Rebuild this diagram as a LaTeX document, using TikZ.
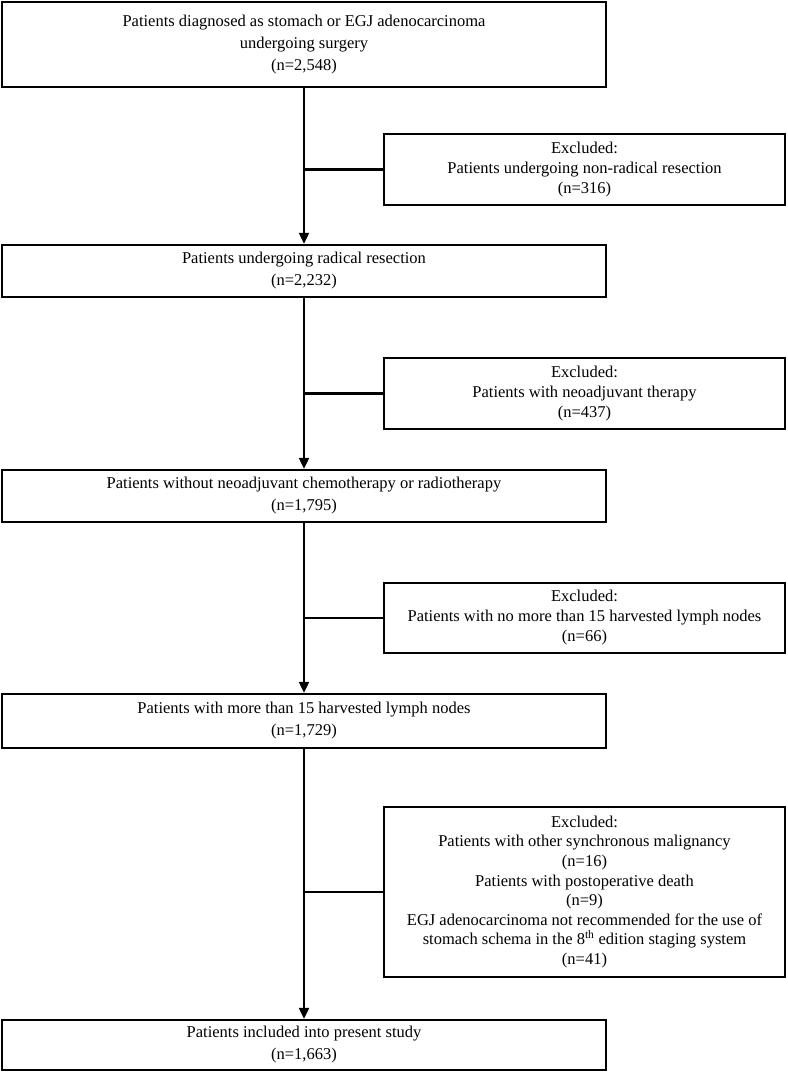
\documentclass[tikz,border=0pt]{standalone}
\usepackage{fontspec}
\setmainfont{Liberation Serif}
\usetikzlibrary{arrows.meta}
\begin{document}
\begin{tikzpicture}[x=1pt,y=-1pt,
  mainbox/.style={draw, line width=2.4pt, minimum width=604pt, inner sep=0pt, align=center, font=\fontsize{16.5pt}{22pt}\selectfont},
  sidebox/.style={draw, line width=2.4pt, minimum width=401pt, inner sep=0pt, align=center, font=\fontsize{16.5pt}{20pt}\selectfont},
  flow/.style={line width=2.2pt, -{Triangle[length=11pt,width=10pt]}},
  branch/.style={line width=2.2pt}]
\useasboundingbox (0,0) rectangle (787,1073);
\node[mainbox, minimum height=85pt] (b1) at (304,44.5) {Patients diagnosed as stomach or EGJ adenocarcinoma\\undergoing surgery\\(n=2,548)};
\node[sidebox, minimum height=71pt] (sA) at (584.5,169.5) {Excluded:\\Patients undergoing non-radical resection\\(n=316)};
\node[mainbox, minimum height=52pt] (b2) at (304,271) {Patients undergoing radical resection\\(n=2,232)};
\node[sidebox, minimum height=71pt] (sB) at (584.5,393.5) {Excluded:\\Patients with neoadjuvant therapy\\(n=437)};
\node[mainbox, minimum height=52pt] (b3) at (304,496) {Patients without neoadjuvant chemotherapy or radiotherapy\\(n=1,795)};
\node[sidebox, minimum height=70pt] (sC) at (584.5,618) {Excluded:\\Patients with no more than 15 harvested lymph nodes\\(n=66)};
\node[mainbox, minimum height=54pt] (b4) at (304,721) {Patients with more than 15 harvested lymph nodes\\(n=1,729)};
\node[sidebox, minimum height=170pt, font=\fontsize{16.5pt}{19.6pt}\selectfont] (sD) at (584.5,892) {Excluded:\\Patients with other synchronous malignancy\\(n=16)\\Patients with postoperative death\\(n=9)\\EGJ adenocarcinoma not recommended for the use of\\stomach schema in the 8\textsuperscript{th} edition staging system\\(n=41)};
\node[mainbox, minimum height=50pt] (b5) at (304,1045) {Patients included into present study\\(n=1,663)};
\draw[flow] (b1.south) -- (b2.north);
\draw[flow] (b2.south) -- (b3.north);
\draw[flow] (b3.south) -- (b4.north);
\draw[flow] (b4.south) -- (b5.north);
\draw[branch] (sA.west -| b1.south) -- (sA.west);
\draw[branch] (sB.west -| b2.south) -- (sB.west);
\draw[branch] (sC.west -| b3.south) -- (sC.west);
\draw[branch] (sD.west -| b4.south) -- (sD.west);
\end{tikzpicture}
\end{document}
